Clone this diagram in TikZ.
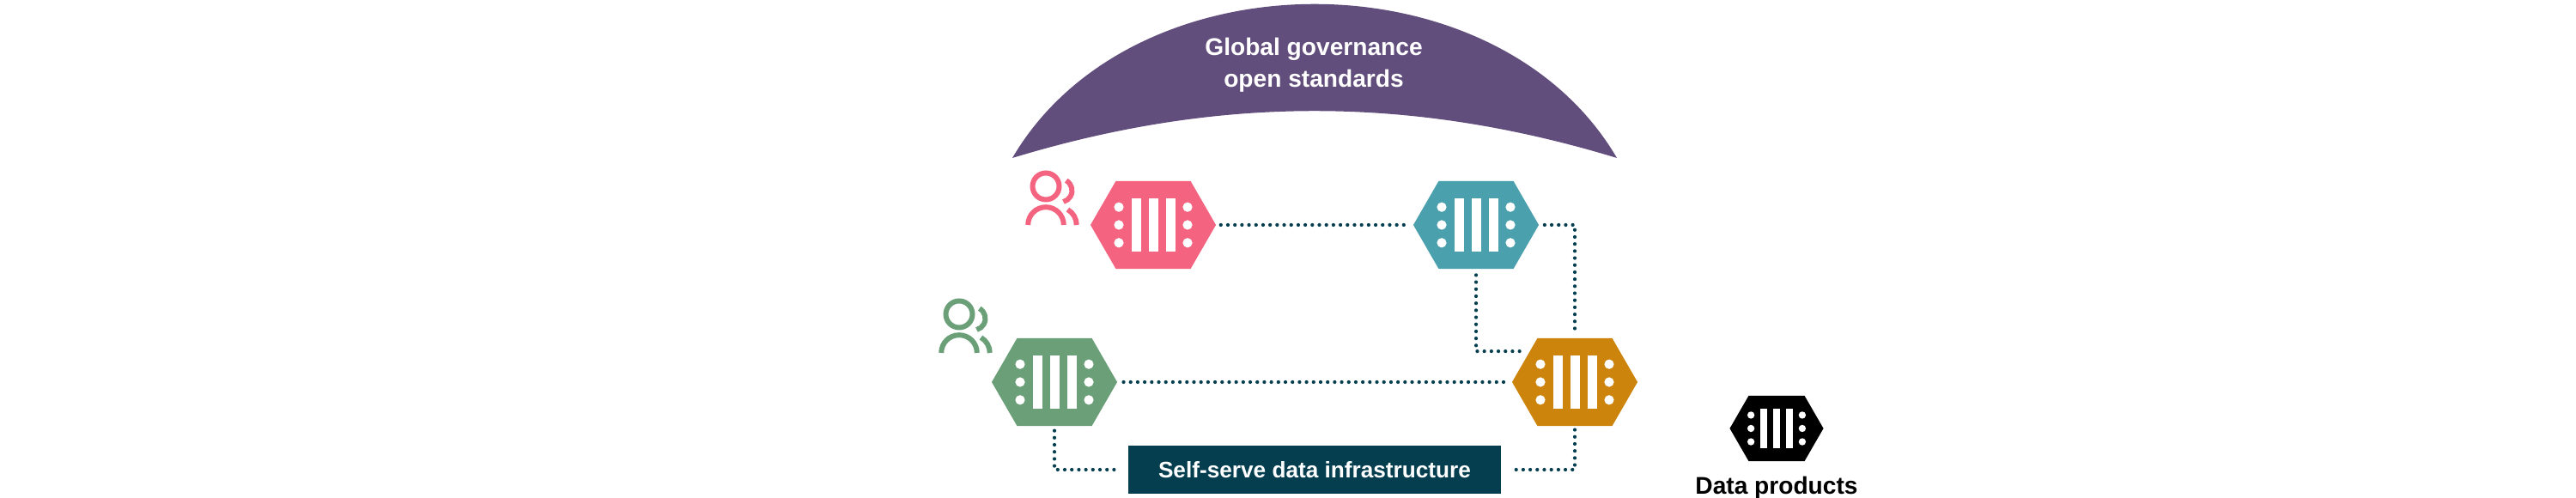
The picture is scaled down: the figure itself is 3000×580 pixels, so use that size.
\documentclass[tikz,border=0pt]{standalone}
\usepackage{fontspec}
\setmainfont{Liberation Sans}
\usepackage{xcolor}
\usetikzlibrary{shapes.symbols}
\definecolor{govpurple}{HTML}{624E7C}
\definecolor{dppink}{HTML}{F4637F}
\definecolor{dpteal}{HTML}{4AA0AD}
\definecolor{dpgreen}{HTML}{6B9F78}
\definecolor{dporange}{HTML}{CC840C}
\definecolor{infrablue}{HTML}{043E4F}
\tikzset{
    dphex/.style={signal,signal to=west and east,signal pointer angle=120,inner sep=0pt,minimum width=1.46cm,minimum height=1.02cm},
    dotlink/.style={infrablue,line width=1.2pt,line cap=round,dash pattern=on 0pt off 2.33pt},
    whitelabel/.style={text=white,font=\bfseries\fontsize{8}{10}\selectfont,align=center},
}
\begin{document}
\begin{tikzpicture}[x=0.01cm,y=0.01cm]
    \useasboundingbox (0,0) rectangle (3000,580);
    % governance arch on top
    \fill[govpurple] (1179,396) .. controls (1319,635) and (1743,635) .. (1883,396)
        .. controls (1643,469) and (1419,469) .. (1179,396) -- cycle;
    \node[whitelabel] (govlabel) at (1530,504) {Global governance\\[0.6pt]open standards};
    % the data products
    \node[dphex,fill=dppink] (pinkdp) at (1343,318) {};
    \node[dphex,fill=dpteal] (tealdp) at (1719,318) {};
    \node[dphex,fill=dpgreen] (greendp) at (1228,135) {};
    \node[dphex,fill=dporange] (orangedp) at (1834,135) {};
    \node[dphex,fill=black,minimum width=1.09cm,minimum height=0.76cm] (blackdp) at (2069,81) {};
    \node[font=\bfseries\fontsize{8}{10}\selectfont] (legendlabel) at (2069,12) {Data products};
    \node[fill=infrablue,minimum width=4.34cm,minimum height=0.56cm,whitelabel,font=\bfseries\fontsize{7.45}{10}\selectfont] (infra) at (1531,33) {Self-serve data infrastructure};
    % bars and dots inside each hexagon
    \foreach \dp/\sc in {pinkdp/1,tealdp/1,greendp/1,orangedp/1,blackdp/0.747} {
        \begin{scope}[shift={(\dp.center)},scale=\sc]
            \foreach \x in {-20,0,20} {
                \fill[white] (\x-5.5,-31) rectangle (\x+5.5,31);
            }
            \foreach \y in {-20.8,0,20.8} {
                \fill[white] (-40,\y) circle (5.6);
                \fill[white] (40,\y) circle (5.6);
            }
        \end{scope}
    }
    % dotted links
    \draw[dotlink,shorten <=1.4pt,shorten >=1.1pt] (pinkdp.east) -- (tealdp.west);
    \draw[dotlink,shorten <=1.7pt,shorten >=2.3pt] (tealdp.east) -| (orangedp.north);
    \draw[dotlink,shorten <=1.9pt,shorten >=1.1pt] (tealdp.south) |- (orangedp.146);
    \draw[dotlink,shorten <=1.9pt,shorten >=0.6pt] (greendp.east) -- (orangedp.west);
    \draw[dotlink,shorten <=1.4pt,shorten >=3.4pt] (greendp.south) |- (infra.west);
    \draw[dotlink,shorten <=1.1pt,shorten >=3.4pt] (orangedp.south) |- (infra.east);
    % people next to the pink and green products
    \foreach \ux/\uy/\ucol in {1218/318/dppink,1117/169/dpgreen} {
        \begin{scope}[shift={(\ux,\uy)},draw=\ucol,line width=1.7pt]
            \draw (0,45) circle (15.5);
            \draw (-20.8,0) arc[start angle=180,end angle=0,radius=20.8];
            \draw (23.7,51.7) arc[start angle=60,end angle=-75,radius=13.5];
            \draw (25.4,17.9) arc[start angle=60,end angle=0,radius=20.7];
        \end{scope}
    }
\end{tikzpicture}
\end{document}
